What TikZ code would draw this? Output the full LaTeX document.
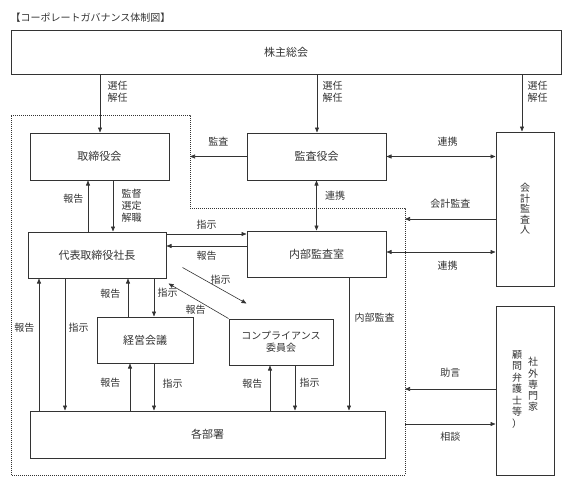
\documentclass[tikz,border=0pt]{standalone}
\usepackage{fontspec}
\setmainfont{Noto Sans CJK JP}
\usetikzlibrary{arrows.meta}
\definecolor{ink}{HTML}{333333}

\begin{document}
\begin{tikzpicture}[x=1pt,y=-1pt,>={Triangle[length=5pt,width=4pt]},font=\fontsize{10}{12}\selectfont,every node/.style={align=left,text=ink}]
		\tikzstyle{every edge}=[draw,line width=0.6pt,color=ink]
		\tikzstyle{box}=[draw=ink,line width=1pt,inner sep=0pt,align=center,font=\fontsize{11}{12}\selectfont]
		\tikzstyle{waku}=[draw=ink,line width=0.5pt,dash pattern=on 1pt off 1pt]
		\useasboundingbox (0,0) rectangle (574,488);

		\node (title) at (7,18) [anchor=west] {【コーポレートガバナンス体制図】};
		\node (soukai) at (286,52) [box,minimum width=550,minimum height=44] {株主総会};
		\node (tori) at (99.5,156.5) [box,minimum width=139,minimum height=47] {取締役会};
		\node (kansa) at (316.5,156.5) [box,minimum width=139,minimum height=47] {監査役会};
		\node (kaikei) at (525,209) [box,minimum width=58,minimum height=154,font=\fontsize{10}{10.5}\selectfont] {会\\計\\監\\査\\人};
		\node (naibu) at (316.5,254) [box,minimum width=139,minimum height=46] {内部監査室};
		\node (daihyo) at (97,255) [box,minimum width=138,minimum height=46] {代表取締役社長};
		\node (keiei) at (145,340) [box,minimum width=96,minimum height=46] {経営会議};
		\node (comp) at (281,342) [box,minimum width=104,minimum height=46,font=\fontsize{10}{12}\selectfont] {コンプライアンス\\委員会};
		\node (kakubu) at (207.5,434.5) [box,minimum width=355,minimum height=47] {各部署};
		\node (shagai) at (525,390.5) [box,minimum width=58,minimum height=169,font=\fontsize{10}{10}\selectfont] {\begin{tabular}[t]{@{}c@{}}顧\\問\\弁\\護\\士\\等\\）\end{tabular}\hspace{6pt}\raisebox{-7pt}{\begin{tabular}[t]{@{}c@{}}社\\外\\専\\門\\家\end{tabular}}};

		\coordinate (waku1) at (190,115);
		\coordinate (waku2) at (405,208);
		\path [waku] (11,115) -- (waku1) |- (waku2) |- (11,475) -- cycle;

		\path [->] (soukai.south -| 100,0) edge node[right=4pt,pos=0.3] {選任\\解任} (tori.north -| 100,0);
		\path [->] (soukai.south -| 317,0) edge node[right=2pt,pos=0.3] {選任\\解任} (kansa.north -| 317,0);
		\path [->] (soukai.south -| 522,0) edge node[right=2pt,pos=0.3] {選任\\解任} (kaikei.north -| 522,0);

		\path [->] (daihyo.north -| 88,0) edge node[left=1pt,pos=0.65] {報告} (tori.south -| 88,0);
		\path [->] (tori.south -| 113,0) edge node[right=5pt] {監督\\選定\\解職} (daihyo.north -| 113,0);

		\path [->] (kansa.west) edge node[above=7pt] {監査} (kansa.west -| waku1);
		\path [<->] (kansa.east) edge node[above=7pt,pos=0.56] {連携} (kansa.east -| kaikei.west);
		\path [->] (kaikei.west |- 0,219) edge node[above=7pt] {会計監査} (waku2 |- 0,219);
		\path [<->] (naibu.east |- 0,252) edge node[below=5pt,pos=0.56] {連携} (kaikei.west |- 0,252);
		\path [<->] (kansa.south) edge node[right=5pt,pos=0.31] {連携} (naibu.north);

		\path [->] (daihyo.east |- 0,234) edge node[above=1pt] {指示} (naibu.west |- 0,234);
		\path [->] (naibu.west |- 0,246) edge node[below=1pt] {報告} (daihyo.east |- 0,246);
		\path [->] ([shift={(16,-11)}]daihyo.south east) edge node[pos=0.55,above,xshift=3pt,yshift=-1pt] {指示} ([shift={(18,-15)}]comp.north west);
		\path [->] (comp.north west) edge node[below,xshift=-3pt] {報告} ([shift={(2,5)}]daihyo.south east);

		\path [->] (keiei.north -| 128,0) edge node[left=4pt,pos=0.59] {報告} (daihyo.south -| 128,0);
		\path [->] (daihyo.south -| 154,0) edge node[right=0pt,pos=0.38] {指示} (keiei.north -| 154,0);
		\path [->] (kakubu.north -| 39,0) edge node[left=1pt,pos=0.63] {報告} (daihyo.south -| 39,0);
		\path [->] (daihyo.south -| 65,0) edge node[right=0pt,pos=0.37] {指示} (kakubu.north -| 65,0);

		\path [->] (kakubu.north -| 130,0) edge node[left=6pt,pos=0.58] {報告} (keiei.south -| 130,0);
		\path [->] (keiei.south -| 154,0) edge node[right=5pt,pos=0.42] {指示} (kakubu.north -| 154,0);
		\path [->] (kakubu.north -| 270,0) edge node[left=4pt,pos=0.6] {報告} (comp.south -| 270,0);
		\path [->] (comp.south -| 295,0) edge node[right=1pt,pos=0.39] {指示} (kakubu.north -| 295,0);
		\path [->] (naibu.south -| 349,0) edge node[right=2pt,pos=0.3] {内部監査} (kakubu.north -| 349,0);

		\path [->] (shagai.west |- 0,389) edge node[above=8pt] {助言} (waku2 |- 0,389);
		\path [->] (waku2 |- 0,424) edge node[below=4pt] {相談} (shagai.west |- 0,424);
	\end{tikzpicture}
\end{document}
